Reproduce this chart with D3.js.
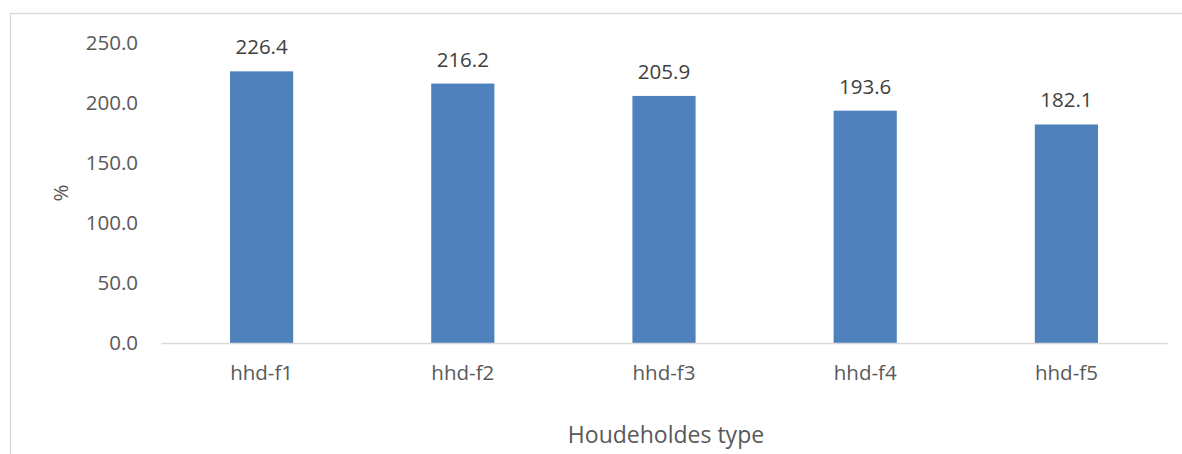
<!DOCTYPE html>
<html>
<head>
<meta charset="utf-8">
<script src="https://cdn.jsdelivr.net/npm/d3@7"></script>
<style>
  html, body { margin: 0; padding: 0; background: #ffffff; }
  svg { display: block; font-family: "Open Sans", "Noto Sans", sans-serif; }
</style>
</head>
<body>
<svg id="chart" width="1182" height="454"></svg>
<script>
// Household types and their values (%)
const categories = ["hhd-f1", "hhd-f2", "hhd-f3", "hhd-f4", "hhd-f5"];
const values = [226.4, 216.2, 205.9, 193.6, 182.1];
const yTicks = [0, 50, 100, 150, 200, 250];
const yTitle = "%";
const xTitle = "Houdeholdes type";

const svg = d3.select("#chart");
const textColor = "#595959";
const gridColor = "#d9d9d9";
const barColor = "#4f81bd";

// chart area frame
svg.append("rect")
  .attr("x", 10.5).attr("y", 13.5)
  .attr("width", 1180).attr("height", 460)
  .attr("fill", "none").attr("stroke", gridColor).attr("stroke-width", 1.3);

const plot = { left: 161, right: 1167, top: 43, bottom: 343 };

const x = d3.scaleBand()
  .domain(categories)
  .range([plot.left, plot.right])
  .paddingInner(0.686)
  .paddingOuter(0.343);

const y = d3.scaleLinear()
  .domain([0, 250])
  .range([plot.bottom, plot.top]);

// y tick labels
const yAxis = d3.axisLeft(y)
  .tickValues(yTicks)
  .tickFormat(d3.format(".1f"))
  .tickSize(0)
  .tickPadding(0);

const gy = svg.append("g")
  .attr("transform", `translate(${plot.left - 23},0)`)
  .call(yAxis);
gy.select(".domain").remove();
gy.selectAll("text")
  .attr("fill", textColor)
  .style("font-size", "20.5px")
  .style("font-family", "'Open Sans', sans-serif");

// bars
svg.append("g").selectAll("rect")
  .data(values)
  .join("rect")
  .attr("x", (d, i) => x(categories[i]))
  .attr("y", d => y(d))
  .attr("width", x.bandwidth())
  .attr("height", d => y(0) - y(d))
  .attr("fill", barColor);

// value labels
svg.append("g").selectAll("text")
  .data(values)
  .join("text")
  .attr("x", (d, i) => x(categories[i]) + x.bandwidth() / 2)
  .attr("y", d => y(d) - 17)
  .attr("text-anchor", "middle")
  .attr("fill", "#404040")
  .style("font-size", "20.5px")
  .text(d => d.toFixed(1));

// x axis (baseline + category labels)
const xAxis = d3.axisBottom(x).tickSize(0).tickPadding(22);
const gx = svg.append("g")
  .attr("transform", `translate(0,${plot.bottom})`)
  .call(xAxis);
gx.select(".domain")
  .attr("stroke", gridColor)
  .attr("stroke-width", 1.5);
gx.selectAll("text")
  .attr("fill", textColor)
  .style("font-size", "20.5px")
  .style("font-family", "'Open Sans', sans-serif");

// axis titles
svg.append("text")
  .attr("transform", `translate(68,${(plot.top + plot.bottom) / 2}) rotate(-90)`)
  .attr("text-anchor", "middle")
  .attr("fill", textColor)
  .style("font-size", "20.5px")
  .text(yTitle);

svg.append("text")
  .attr("x", (plot.left + plot.right) / 2 + 2)
  .attr("y", 443)
  .attr("text-anchor", "middle")
  .attr("fill", textColor)
  .style("font-size", "23px")
  .text(xTitle);
</script>
</body>
</html>
